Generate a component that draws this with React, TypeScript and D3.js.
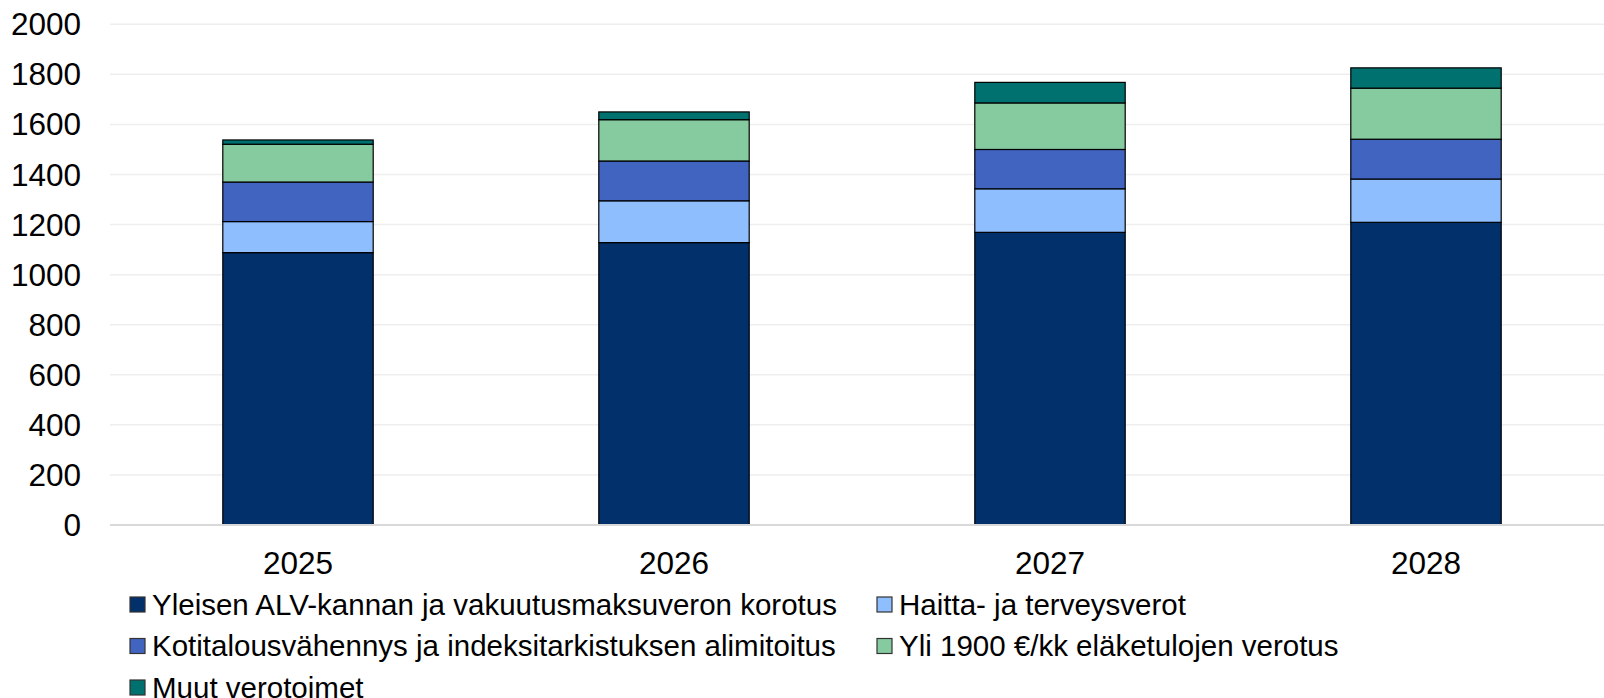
import React from "react";
import * as d3 from "d3";

const years = ["2025", "2026", "2027", "2028"];
const seriesNames = [
  "Yleisen ALV-kannan ja vakuutusmaksuveron korotus",
  "Haitta- ja terveysverot",
  "Kotitalousvähennys ja indeksitarkistuksen alimitoitus",
  "Yli 1900 €/kk eläketulojen verotus",
  "Muut verotoimet",
];
const alvValues = [1088, 1128, 1169, 1209];
const haittaValues = [124, 167, 174, 173];
const kotitalousValues = [158, 159, 157, 159];
const elakeValues = [151, 165, 186, 204];
const muutValues = [17, 31, 82, 81];
const seriesColors = ["#02306B", "#8FBEFF", "#4064C0", "#86CAA0", "#00716E"];
const yTicks = [0, 200, 400, 600, 800, 1000, 1200, 1400, 1600, 1800, 2000];

const W = 1604;
const H = 698;
const FONT = "'Liberation Sans', Arial, sans-serif";

export default function App() {
  const seriesValues = [alvValues, haittaValues, kotitalousValues, elakeValues, muutValues];
  const rows = years.map((y, i) => {
    const r: any = { year: y };
    seriesNames.forEach((n, k) => (r[n] = seriesValues[k][i]));
    return r;
  });
  const stacked = d3.stack().keys(seriesNames)(rows);

  const x = d3.scaleBand().domain(years).range([110, 1614]).paddingInner(0.6).paddingOuter(0.3);
  const y = d3.scaleLinear().domain([0, 2000]).range([525, 24.3]);

  const legendItems = [
    { k: 0, x: 130, y: 597 },
    { k: 1, x: 877, y: 597 },
    { k: 2, x: 130, y: 638.5 },
    { k: 3, x: 877, y: 638.5 },
    { k: 4, x: 130, y: 680 },
  ];

  return (
    <div style={{ position: "absolute", left: 0, top: 0 }}>
      <svg width={W} height={H} style={{ display: "block", background: "#fff" }} fontFamily={FONT}>
        {yTicks.filter((t) => t > 0).map((t) => (
          <line key={t} x1={110} x2={W} y1={y(t)} y2={y(t)} stroke="#eeeeee" strokeWidth={1.5} />
        ))}
        {yTicks.map((t) => (
          <text key={"l" + t} x={81} y={y(t) + 11} textAnchor="end" fontSize={31.5} fill="#000">
            {t}
          </text>
        ))}
        {stacked.map((s, k) => (
          <g key={k}>
            {s.map((d: any, i: number) => (
              <rect
                key={i}
                x={x(years[i])!}
                width={x.bandwidth()}
                y={y(d[1])}
                height={y(d[0]) - y(d[1])}
                fill={seriesColors[k]}
                stroke="#000"
                strokeWidth={1.2}
              />
            ))}
          </g>
        ))}
        <line x1={110} x2={W} y1={y(0)} y2={y(0)} stroke="#d9d9d9" strokeWidth={2} />
        {years.map((yr) => (
          <text key={yr} x={x(yr)! + x.bandwidth() / 2} y={573.5} textAnchor="middle" fontSize={31.5} fill="#000">
            {yr}
          </text>
        ))}
        {legendItems.map((it) => (
          <g key={it.k}>
            <rect x={it.x} y={it.y} width={15} height={15} fill={seriesColors[it.k]} stroke="#333" strokeWidth={1.2} />
            <text x={it.x + 22} y={it.y + 17.5} fontSize={29.5} fill="#000">
              {seriesNames[it.k]}
            </text>
          </g>
        ))}
      </svg>
    </div>
  );
}
